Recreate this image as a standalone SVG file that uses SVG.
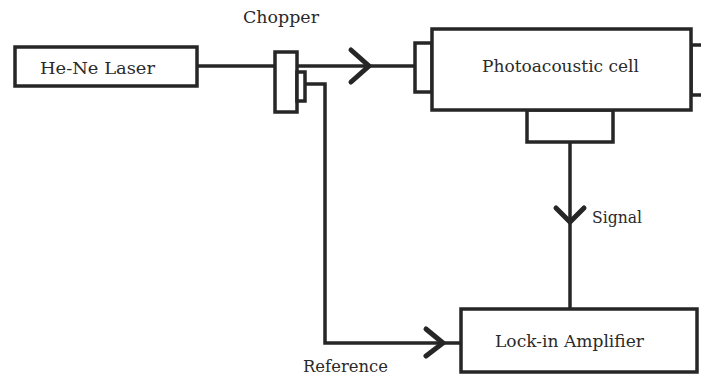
<svg xmlns="http://www.w3.org/2000/svg" width="701" height="377" viewBox="0 0 701 377">
<style>
.box{fill:#fff;stroke:#262626;stroke-width:3.5}
.ln{fill:none;stroke:#262626;stroke-width:3.5}
.arr{fill:none;stroke:#262626;stroke-width:5;stroke-linecap:round;stroke-linejoin:miter}
text{font-family:"DejaVu Serif","Liberation Serif",serif;font-size:17.5px;fill:#2a2a2a}
</style>
<rect width="701" height="377" fill="#fff"/>
<g id="connectors">
<path class="ln" d="M197 66 H274"/>
<path class="ln" d="M297 66 H415"/>
<path class="arr" d="M351 50 L369 66 L351 82"/>
<path class="ln" d="M305 84 H325 V343 H460"/>
<path class="arr" d="M426 329 L443 343 L426 356"/>
<path class="ln" d="M570 142 V308"/>
<path class="arr" d="M556 208 L570 222 L584 208"/>
</g>
<g id="laser">
<rect class="box" x="15" y="47" width="182" height="39"/>
<text x="40" y="74" textLength="115" lengthAdjust="spacingAndGlyphs">He-Ne Laser</text>
</g>
<g id="chopper">
<rect class="box" x="275" y="52" width="22" height="60"/>
<rect class="box" x="297" y="72" width="8" height="29"/>
<text x="243" y="23" textLength="76" lengthAdjust="spacingAndGlyphs">Chopper</text>
</g>
<g id="cell">
<rect class="box" x="415" y="43" width="17" height="49"/>
<rect class="box" x="691" y="45" width="14" height="50"/>
<rect class="box" x="527" y="110" width="86" height="32"/>
<rect class="box" x="432" y="29" width="259" height="81"/>
<text x="482" y="72" textLength="157" lengthAdjust="spacingAndGlyphs">Photoacoustic cell</text>
</g>
<g id="lockin">
<rect class="box" x="461" y="309" width="236" height="63"/>
<text x="495" y="347" textLength="149" lengthAdjust="spacingAndGlyphs">Lock-in Amplifier</text>
</g>
<g id="labels">
<text x="592" y="223" textLength="50" lengthAdjust="spacingAndGlyphs">Signal</text>
<text x="303" y="372" textLength="85" lengthAdjust="spacingAndGlyphs">Reference</text>
</g>
</svg>
